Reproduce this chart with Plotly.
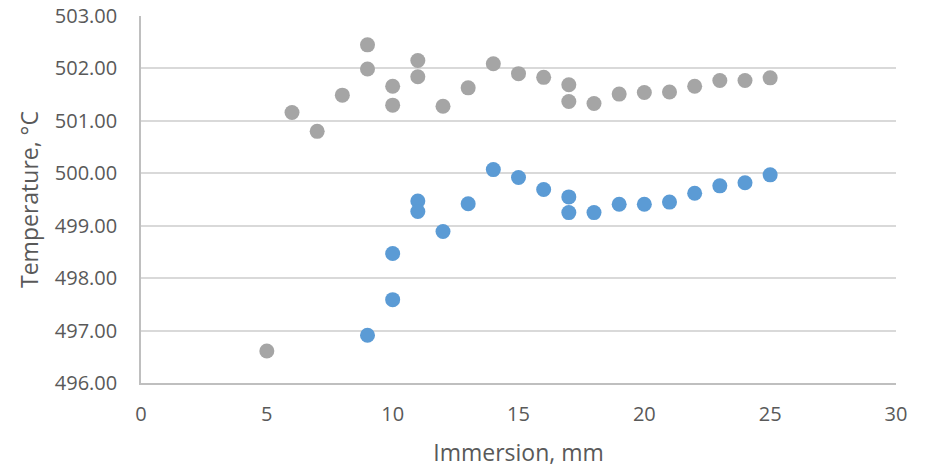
import plotly.graph_objects as go

# Series 1 (gray)
gray_x = [5, 6, 7, 8, 9, 9, 10, 10, 11, 11, 12, 13, 14, 15, 16, 17, 17, 18, 19, 20, 21, 22, 23, 24, 25]
gray_y = [496.61, 501.16, 500.80, 501.49, 502.45, 501.99, 501.66, 501.30, 502.15, 501.84, 501.28, 501.63,
          502.09, 501.90, 501.83, 501.69, 501.37, 501.33, 501.51, 501.54, 501.55, 501.66, 501.77, 501.77, 501.82]

# Series 2 (blue)
blue_x = [9, 10, 10, 11, 11, 12, 13, 14, 15, 16, 17, 17, 18, 19, 20, 21, 22, 23, 24, 25]
blue_y = [496.91, 497.59, 498.47, 499.47, 499.27, 498.89, 499.42, 500.07, 499.92, 499.69, 499.55, 499.25,
          499.25, 499.41, 499.41, 499.45, 499.62, 499.76, 499.82, 499.97]

x_title = "Immersion, mm"
y_title = "Temperature, °C"

font_family = "Open Sans"
text_color = "#595959"

fig = go.Figure()
fig.add_trace(go.Scatter(x=gray_x, y=gray_y, mode="markers",
                         marker=dict(size=15, color="#A5A5A5", line=dict(width=0)),
                         showlegend=False))
fig.add_trace(go.Scatter(x=blue_x, y=blue_y, mode="markers",
                         marker=dict(size=15, color="#5B9BD5", line=dict(width=0)),
                         showlegend=False))

fig.update_layout(
    width=930, height=469,
    margin=dict(l=141, r=34, t=16, b=86),
    paper_bgcolor="white", plot_bgcolor="white",
    font=dict(family=font_family, size=20, color=text_color),
    xaxis=dict(range=[0, 30], dtick=5, tick0=0, showgrid=False, zeroline=False,
               showline=True, linecolor="#BFBFBF", linewidth=1.5,
               ticks="outside", ticklen=12, tickcolor="rgba(0,0,0,0)",
               automargin=False,
               title=dict(text=x_title, font=dict(size=23, color=text_color), standoff=19),
               tickfont=dict(size=20, color=text_color)),
    yaxis=dict(range=[496, 503], dtick=1, tick0=496, tickformat=".2f",
               showgrid=True, gridcolor="#D9D9D9", gridwidth=1.5, zeroline=False,
               showline=True, linecolor="#BFBFBF", linewidth=1.5,
               ticks="outside", ticklen=18, tickcolor="rgba(0,0,0,0)",
               automargin=False,
               title=dict(text=y_title, font=dict(size=23, color=text_color), standoff=10),
               tickfont=dict(size=20, color=text_color)),
)

# remove the browser's default 8px body margin so the figure fills the window
fig.write_html("out.html",
               config={"displayModeBar": False},
               post_script="document.body.style.margin='0';document.body.style.overflow='hidden';")
